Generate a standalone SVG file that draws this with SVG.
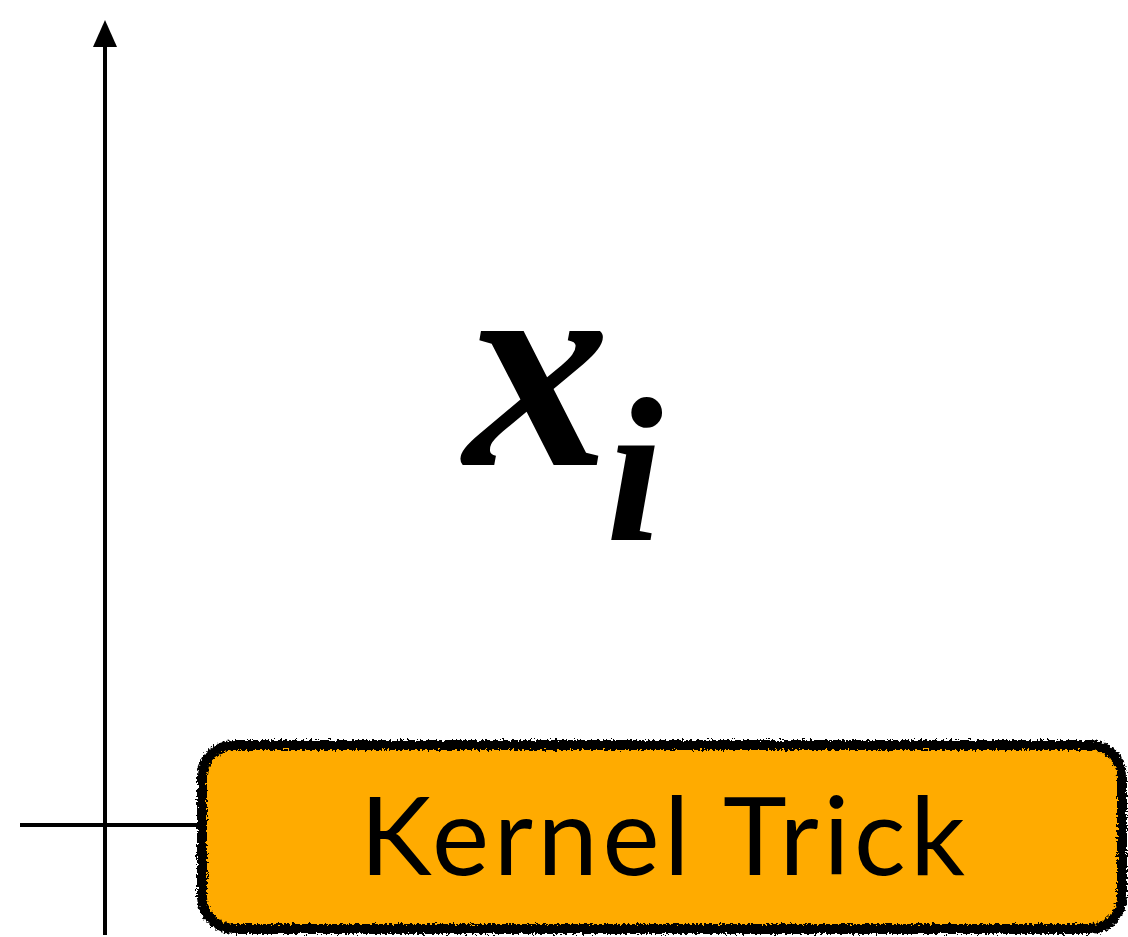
<svg xmlns="http://www.w3.org/2000/svg" width="1128" height="937" viewBox="0 0 1128 937">
<style>
.axis{stroke:#000;stroke-width:4;fill:none}
.box{fill:#FFAB00;stroke:#000;stroke-width:10}
.lbl{font-family:"Lato","Open Sans",sans-serif;font-size:108px;fill:#000}
.math{font-family:"Liberation Serif","Times New Roman",serif;font-style:italic;font-weight:bold;fill:#000}
</style>
<defs>
<filter id="rough" x="-5%" y="-10%" width="110%" height="120%">
<feTurbulence type="fractalNoise" baseFrequency="0.4" numOctaves="2" seed="3" result="n"/>
<feDisplacementMap in="SourceGraphic" in2="n" scale="7" xChannelSelector="R" yChannelSelector="G"/>
</filter>
</defs>
<g id="connectors">
<line class="axis" x1="105" y1="935" x2="105" y2="40"/>
<polygon points="105,20 93,47 117,47" fill="#000"/>
<line class="axis" x1="20" y1="825" x2="202" y2="825"/>
</g>
<g id="xi">
<text class="math" x="464" y="465" font-size="292">x</text>
<text class="math" x="606" y="540" font-size="205">i</text>
</g>
<g id="kernel-trick">
<rect class="box" x="202" y="745" width="920" height="184" rx="32" filter="url(#rough)"/>
<text class="lbl" x="360" y="875" textLength="605" lengthAdjust="spacing">Kernel Trick</text>
</g>
</svg>
